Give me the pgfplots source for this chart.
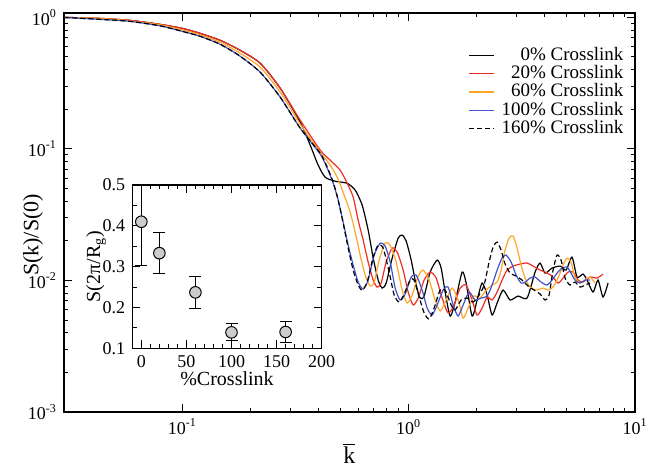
\documentclass[border=0pt]{standalone}
\usepackage{pgfplots}
\pgfplotsset{compat=1.18}
\usepackage{fontspec}
\setmainfont{Liberation Serif}
\definecolor{cred}{RGB}{240,45,35}
\definecolor{corange}{RGB}{255,165,40}
\definecolor{cblue}{RGB}{65,85,200}
\begin{document}
\begin{tikzpicture}
\useasboundingbox (-32pt,-29pt) rectangle (295pt,206pt);
\begin{axis}[
  name=main, at={(0pt,0pt)}, anchor=south west,
  scale only axis, width=285.5pt, height=199.5pt,
  xmode=log, ymode=log,
  xmin=0.03, xmax=10, ymin=1e-3, ymax=1.08,
  xtick={0.1,1,10}, xticklabels={10\textsuperscript{-1},10\textsuperscript{0},10\textsuperscript{1}},
  ytick={0.001,0.01,0.1,1}, yticklabels={10\textsuperscript{-3},10\textsuperscript{-2},10\textsuperscript{-1},10\textsuperscript{0}},
  tick label style={font=\fontsize{9}{10}\selectfont},
  axis line style={line width=0.6pt},
  every tick/.style={black, line width=0.5pt},
  major tick length=4pt, minor tick length=2.2pt,
  xlabel={$\overline{\mbox{k}}$},
  ylabel={S(k)/S(0)},
  xlabel style={font=\fontsize{12}{14}\selectfont, at={(rel axis cs:0.5,-0.103)}, anchor=center},
  ylabel style={font=\fontsize{11}{13}\selectfont, at={(rel axis cs:-0.0543,0.4436)}, anchor=center},
  legend style={draw=none, fill=none, at={(rel axis cs:0.984,0.918)}, anchor=north east,
    font=\fontsize{9.5}{11}\selectfont, inner sep=0pt, row sep=0.2pt, column sep=2.5pt,
    nodes={inner xsep=1pt, inner ysep=0pt, text height=7pt, text depth=2pt}},
  legend cell align=right,
  legend image code/.code={\draw[#1] (0pt,0pt) -- (12.5pt,0pt);},
  every axis plot/.append style={line width=0.6pt, smooth, tension=0.4},
]
\addplot[black] coordinates {(0.0301,1.0) (0.04345,0.9827) (0.05893,0.9489) (0.07993,0.8848) (0.1,0.825) (0.1201,0.756) (0.1472,0.6689) (0.1804,0.5616) (0.2211,0.4474) (0.2709,0.2890)
(0.3319,0.1595) (0.3674,0.1067) (0.3985,0.0752) (0.4279,0.0609) (0.4736,0.0568) (0.5351,0.0548) (0.5804,0.0486) (0.6231,0.0374) (0.6623,0.02414) (0.6971,0.0148) (0.7334,0.01007) (0.7637,0.00875) (0.7955,0.00956) (0.8456,0.0148) (0.8988,0.0210) (0.936,0.02212) (0.9749,0.01992) (1.0258,0.01429) (1.0793,0.00923) (1.124,0.00735) (1.1706,0.00761) (1.2443,0.01158) (1.3361,0.01429) (1.3915,0.01242) (1.4494,0.00816) (1.5248,0.00536) (1.6044,0.00686) (1.7227,0.01158) (1.7943,0.00956) (1.9069,0.00536) (2.0065,0.0071) (2.1111,0.00956) (2.2214,0.00775) (2.3369,0.00546) (2.459,0.00674) (2.6137,0.00845) (2.8064,0.0071) (3.0441,0.00761) (3.3361,0.00735) (3.6187,0.01158) (3.8074,0.01356) (4.0061,0.01138) (4.3011,0.01242) (4.666,0.01286) (4.9595,0.01199) (5.27,0.01506) (5.5453,0.01061) (5.8957,0.01118) (6.1404,0.01007) (6.5261,0.00816) (6.866,0.01007) (7.2252,0.00748) (7.6016,0.00956)};
\addlegendentry{0\% Crosslink}
\addplot[cred] coordinates {(0.0301,1.0) (0.04345,0.9827) (0.05893,0.9489) (0.07993,0.8848) (0.1,0.825) (0.1201,0.756) (0.1472,0.6689) (0.1804,0.5616) (0.2211,0.4474) (0.2709,0.2890)
(0.3319,0.1652) (0.4067,0.0978) (0.4501,0.0821) (0.4983,0.0689) (0.5351,0.0548) (0.5687,0.0430) (0.5983,0.0287) (0.6295,0.02027) (0.6623,0.0138) (0.6971,0.01007) (0.726,0.0089) (0.756,0.00956) (0.7955,0.0138) (0.8456,0.01762) (0.8897,0.01643) (0.9456,0.01199) (0.9949,0.00816) (1.0469,0.00651) (1.1014,0.00735) (1.1706,0.01007) (1.2443,0.01158) (1.3226,0.01043) (1.4057,0.00735) (1.4942,0.00566) (1.5881,0.00651) (1.6881,0.00875) (1.7943,0.00923) (1.9069,0.0071) (2.0065,0.00546) (2.1111,0.00617) (2.2214,0.00748) (2.3369,0.0071) (2.459,0.00816) (2.5871,0.01007) (2.7222,0.01199) (2.8934,0.01286) (3.1068,0.01333) (3.3361,0.01356) (3.5458,0.01287) (3.8074,0.01199) (4.0061,0.01158) (4.3011,0.0108) (4.5717,0.00956) (4.8106,0.01043) (5.0612,0.01158) (5.3243,0.01158) (5.6016,0.01007) (5.8957,0.00972) (6.3299,0.01061) (6.797,0.01043) (7.2252,0.01118)};
\addlegendentry{20\% Crosslink}
\addplot[corange] coordinates {(0.0301,1.0) (0.04345,0.9827) (0.05893,0.9406) (0.07993,0.8771) (0.1,0.8037) (0.1201,0.7364) (0.1472,0.6459) (0.1804,0.5329) (0.2211,0.4172) (0.2709,0.2695) (0.3319,0.154) (0.4067,0.0944) (0.4501,0.0752) (0.4833,0.0609) (0.519,0.0445) (0.5516,0.033) (0.5804,0.02331) (0.6106,0.01559) (0.6425,0.01099) (0.6761,0.00907) (0.7042,0.00972) (0.7409,0.01429) (0.7875,0.01923) (0.8286,0.01857) (0.8807,0.0138) (0.936,0.00845) (0.9849,0.00674) (1.0362,0.00775) (1.1014,0.0108) (1.1588,0.01199) (1.2317,0.01007) (1.3093,0.0071) (1.3775,0.00586) (1.4642,0.0071) (1.5561,0.00875) (1.654,0.0071) (1.7404,0.00518) (1.8311,0.00617) (1.9462,0.00761) (2.0687,0.00735) (2.1988,0.00845) (2.3369,0.00923) (2.459,0.00972) (2.561,0.01199) (2.6674,0.01701) (2.778,0.021) (2.8934,0.02174) (3.0135,0.01762) (3.1385,0.01309) (3.269,0.01043) (3.4392,0.0089) (3.6555,0.00845) (3.9254,0.00875) (4.1299,0.00845) (4.3454,0.0089) (4.5717,0.01043) (4.8106,0.01309) (5.0104,0.0148) (5.2169,0.0138) (5.4338,0.01061) (5.7184,0.00956) (6.0169,0.01007) (6.3299,0.01061) (6.6603,0.00956)};
\addlegendentry{60\% Crosslink}
\addplot[cblue] coordinates {(0.0301,1.0) (0.04345,0.9657) (0.05893,0.9325) (0.07993,0.8619) (0.1,0.7829) (0.1201,0.7174) (0.1472,0.6237) (0.1804,0.5057) (0.2211,0.3823) (0.2709,0.2469) (0.3319,0.1436) (0.4067,0.0912) (0.4367,0.0714) (0.4641,0.0548) (0.4882,0.0408) (0.5137,0.0277) (0.5405,0.01857) (0.5687,0.01309) (0.5983,0.00972) (0.6295,0.0086) (0.6623,0.01007) (0.7042,0.01559) (0.7484,0.01923) (0.7875,0.01825) (0.8286,0.0138) (0.8718,0.00875) (0.9172,0.0071) (0.9651,0.00789) (1.0258,0.01061) (1.0793,0.01099) (1.147,0.00845) (1.207,0.00617) (1.2698,0.00546) (1.3361,0.00651) (1.4202,0.00845) (1.4942,0.0089) (1.5721,0.00651) (1.654,0.00536) (1.7404,0.00651) (1.8498,0.00816) (1.9661,0.0071) (2.0898,0.00735) (2.2214,0.00761) (2.3369,0.00923) (2.459,0.01199) (2.5871,0.0148) (2.6946,0.01559) (2.835,0.0138) (2.9829,0.01099) (3.1385,0.00956) (3.269,0.00972) (3.4392,0.01043) (3.6187,0.01061) (3.8462,0.00972) (4.0884,0.00923) (4.3011,0.01007) (4.5257,0.01138) (4.7617,0.01242) (5.0104,0.01264) (5.2169,0.01138) (5.4338,0.01007) (5.7184,0.00956) (6.0169,0.01007) (6.3299,0.01007)};
\addlegendentry{100\% Crosslink}
\addplot[black, dash pattern=on 2.5pt off 1.5pt] coordinates {(0.0301,1.0) (0.04345,0.9657) (0.05893,0.9325) (0.07993,0.8619) (0.1,0.7829) (0.1201,0.7174) (0.1472,0.6237) (0.1804,0.5057) (0.2211,0.3823) (0.2709,0.2469) (0.3319,0.1436) (0.4067,0.0928) (0.4367,0.0726) (0.4641,0.0558) (0.4882,0.0408) (0.5137,0.0272) (0.5405,0.01762) (0.5687,0.01199) (0.5983,0.00923) (0.6231,0.00845) (0.6557,0.00972) (0.6971,0.01505) (0.7334,0.01857) (0.7716,0.01762) (0.8201,0.01158) (0.863,0.00775) (0.908,0.00686) (0.9553,0.00789) (1.0154,0.01007) (1.0575,0.01007) (1.1127,0.00748) (1.1706,0.00566) (1.2317,0.00509) (1.296,0.00617) (1.3775,0.00845) (1.4494,0.00845) (1.5404,0.00651) (1.6044,0.00596) (1.7053,0.0071) (1.8127,0.00735) (1.9265,0.00686) (2.0476,0.00775) (2.1546,0.00923) (2.2669,0.0138) (2.361,0.01794) (2.459,0.01957) (2.561,0.01701) (2.6674,0.01333) (2.8064,0.01138) (2.9829,0.0108) (3.1705,0.01007) (3.37,0.00907) (3.5819,0.00845) (3.8074,0.00789) (4.0061,0.0071) (4.1721,0.00775) (4.3454,0.01199) (4.5257,0.01559) (4.7136,0.01429) (4.9096,0.01043) (5.1642,0.00923) (5.4338,0.00972) (5.7184,0.0089) (6.0169,0.00923) (6.3299,0.00956)};
\addlegendentry{160\% Crosslink}
\end{axis}
\begin{axis}[
  at={(34.15pt,31.85pt)}, anchor=south west,
  scale only axis, width=94.7pt, height=81.65pt,
  xmin=-10, xmax=200, ymin=0.1, ymax=0.5,
  xtick={0,50,100,150,200}, xticklabels={0,50,100,150,200},
  ytick={0.1,0.2,0.3,0.4,0.5}, yticklabels={0.1,0.2,0.3,0.4,0.5},
  minor x tick num=4, minor y tick num=1,
  axis background/.style={fill=white},
  tick label style={font=\fontsize{9}{10}\selectfont},
  axis line style={line width=0.6pt},
  every tick/.style={black, line width=0.5pt},
  major tick length=4pt, minor tick length=2.2pt,
  xlabel={\%Crosslink},
  ylabel={S(2π/R\textsubscript{g})},
  label style={font=\fontsize{10}{12}\selectfont},
  xlabel style={at={(rel axis cs:0.5,-0.184)}, anchor=center},
  ylabel style={at={(rel axis cs:-0.19,0.5)}, anchor=center},
]
\addplot[only marks, mark=*, mark size=2.9pt, mark options={fill=gray!40, draw=black, line width=0.5pt},
  error bars/.cd, y dir=both, y explicit,
  error mark options={rotate=90, mark size=3pt, line width=0.5pt},
  error bar style={line width=0.5pt}]
  coordinates {(0,0.41) +- (0,0.108) (20,0.333) +- (0,0.05) (60,0.237) +- (0,0.04) (100,0.139) +- (0,0.021) (160,0.140) +- (0,0.025)};
\end{axis}
\end{tikzpicture}
\end{document}
